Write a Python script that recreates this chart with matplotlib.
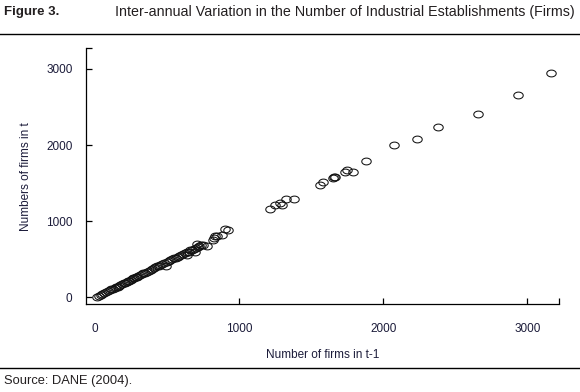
import numpy as np
import matplotlib
matplotlib.use('Agg')
import matplotlib.pyplot as plt
from matplotlib.path import Path

# firms in t-1 / firms in t
firms_prev = [12, 25, 38, 50, 62, 75, 88, 100, 110, 122, 135, 145, 155, 165, 175,
              185, 198, 210, 220, 228, 235, 245, 255, 262, 270, 280, 290, 300, 312,
              325, 335, 348, 360, 372, 385, 395, 405, 418, 428, 440, 452, 465, 480,
              490, 500, 510, 520, 535, 548, 560, 572, 585, 598,
              610, 622, 635, 648, 660, 672, 685, 700, 712, 722, 735, 748, 705, 775,
              820, 825, 830, 845, 880, 900, 925, 690, 640,
              1213, 1248, 1285, 1296, 1324, 1382, 1562, 1583, 1653, 1660, 1668,
              1734, 1748, 1792, 1882, 2074, 2236, 2378, 2655, 2933, 3165]
firms_now = [8, 18, 30, 45, 52, 68, 80, 92, 105, 112, 125, 138, 140, 152, 160,
             172, 185, 190, 205, 215, 220, 228, 238, 250, 255, 262, 270, 282, 290,
             300, 318, 325, 335, 345, 362, 370, 380, 392, 405, 412, 425, 432, 445,
             405, 468, 475, 488, 498, 510, 520, 535, 540, 555,
             570, 580, 592, 600, 615, 625, 640, 650, 662, 668, 685, 690, 700, 675,
             750, 775, 800, 810, 825, 895, 890, 600, 560,
             1164, 1217, 1238, 1217, 1288, 1296, 1480, 1515, 1565, 1585, 1578,
             1652, 1673, 1650, 1795, 2005, 2084, 2242, 2413, 2662, 2943]

xticks = [0, 1000, 2000, 3000]
yticks = [0, 1000, 2000, 3000]

txt = '#1c1c3a'
plt.rcParams['font.family'] = ['Liberation Sans', 'DejaVu Sans']

fig = plt.figure(figsize=(5.8, 3.92), dpi=100)
ax = fig.add_axes([0.1488, 0.2245, 0.815, 0.6523])

# slightly flattened open circle
t = np.linspace(0, 2 * np.pi, 40)
ell = Path(np.column_stack([np.cos(t), 0.72 * np.sin(t)]), closed=True)
ax.plot(firms_prev, firms_now, linestyle='none', marker=ell, markersize=6.8,
        markerfacecolor='none', markeredgecolor='#111111', markeredgewidth=0.75)

xmax, ymax = 3220, 3272
ax.set_xlim(-62, xmax)
ax.set_ylim(-88, ymax)
for s in ['top', 'right']:
    ax.spines[s].set_visible(False)
for s in ['left', 'bottom']:
    ax.spines[s].set_linewidth(0.9)

ax.set_xticks(xticks + [xmax])
ax.set_xticklabels([str(v) for v in xticks] + [''])
ax.set_yticks(yticks + [ymax])
ax.set_yticklabels([str(v) for v in yticks] + [''])
ax.tick_params(direction='in', length=4, width=0.9, labelsize=8.5, labelcolor=txt)
ax.tick_params(axis='x', pad=14)
ax.tick_params(axis='y', pad=10)
ax.xaxis.get_major_ticks()[0].tick1line.set_visible(False)

ax.set_xlabel('Number of firms in t-1', fontsize=8.5, color=txt, labelpad=10)
ax.set_ylabel('Numbers of firms in t', fontsize=8.5, color=txt, labelpad=10)

fig.text(4 / 580, 1 - 12 / 392, 'Figure 3.', fontsize=9.5, fontweight='bold',
         color='#231f20', va='center', ha='left')
fig.text(115 / 580, 1 - 12 / 392,
         'Inter-annual Variation in the Number of Industrial Establishments (Firms)',
         fontsize=10.3, color='#231f20', va='center', ha='left')
fig.add_artist(plt.Line2D([0, 1], [1 - 34 / 392] * 2, color='black', lw=1.0))
fig.add_artist(plt.Line2D([0, 1], [1 - 368 / 392] * 2, color='black', lw=1.0))
fig.text(4 / 580, 1 - 381 / 392, 'Source: DANE (2004).', fontsize=9.3,
         color='#231f20', va='center', ha='left')

fig.savefig('out.png', dpi=100)
